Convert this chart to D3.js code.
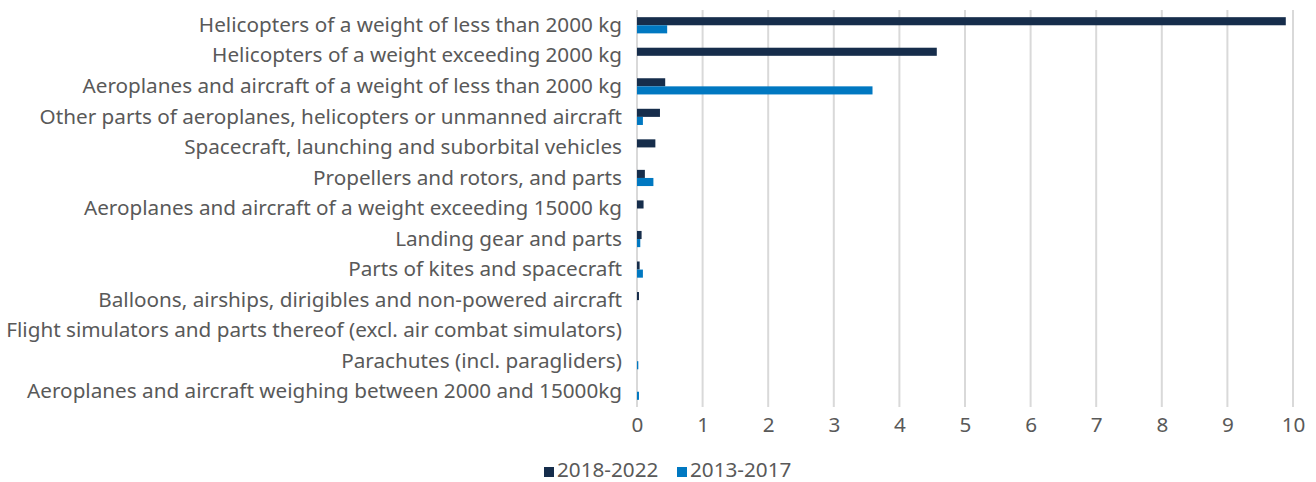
<!DOCTYPE html>
<html>
<head>
<meta charset="utf-8">
<script src="https://cdn.jsdelivr.net/npm/d3@7"></script>
<style>
  html, body { margin: 0; padding: 0; background: #fff; }
  svg { display: block; }
  text { font-family: "Noto Sans", sans-serif; fill: #595959; }
</style>
</head>
<body>
<svg id="chart" width="1316" height="482"></svg>
<script>
// Product categories, top to bottom
const categories = [
  "Helicopters of a weight of less than 2000 kg",
  "Helicopters of a weight exceeding 2000 kg",
  "Aeroplanes and aircraft of a weight of less than 2000 kg",
  "Other parts of aeroplanes, helicopters or unmanned aircraft",
  "Spacecraft, launching and suborbital vehicles",
  "Propellers and rotors, and parts",
  "Aeroplanes and aircraft of a weight exceeding 15000 kg",
  "Landing gear and parts",
  "Parts of kites and spacecraft",
  "Balloons, airships, dirigibles and non-powered aircraft",
  "Flight simulators and parts thereof (excl. air combat simulators)",
  "Parachutes (incl. paragliders)",
  "Aeroplanes and aircraft weighing between 2000 and 15000kg"
];

const seriesNames = ["2018-2022", "2013-2017"];
const values2018_2022 = [9.89, 4.57, 0.43, 0.35, 0.28, 0.12, 0.10, 0.07, 0.04, 0.03, 0, 0, 0];
const values2013_2017 = [0.46, 0, 3.59, 0.09, 0, 0.25, 0, 0.05, 0.09, 0, 0, 0.02, 0.03];
const xTicks = [0, 1, 2, 3, 4, 5, 6, 7, 8, 9, 10];

const colors = ["#162d4b", "#0078c1"];
const fontSize = 20.7;

const svg = d3.select("#chart");
const margin = { left: 637, right: 23, top: 10, bottom: 75 };
const W = 1316, H = 482;

const x = d3.scaleLinear().domain([0, 10]).range([margin.left, W - margin.right]);
const y = d3.scaleBand().domain(categories).range([margin.top, H - margin.bottom]).paddingInner(0.47).paddingOuter(0.235);
const barH = y.bandwidth() / 2;

// Vertical gridlines
svg.append("g").selectAll("line").data(xTicks).join("line")
  .attr("x1", d => x(d)).attr("x2", d => x(d))
  .attr("y1", margin.top).attr("y2", H - margin.bottom)
  .attr("stroke", "#d9d9d9").attr("stroke-width", 2);

// Bars
const series = [values2018_2022, values2013_2017];
series.forEach((vals, si) => {
  svg.append("g").selectAll("rect").data(categories).join("rect")
    .attr("x", x(0))
    .attr("y", (c) => y(c) + si * barH)
    .attr("width", (c, i) => Math.max(0, x(vals[i]) - x(0)))
    .attr("height", barH)
    .attr("fill", colors[si]);
});

// Category labels
const yAxis = d3.axisLeft(y).tickSize(0).tickPadding(15);
const gy = svg.append("g").attr("transform", `translate(${x(0)},0)`).call(yAxis);
gy.select(".domain").remove();
gy.selectAll("text").attr("font-size", fontSize).style("font-family", "Noto Sans, sans-serif").attr("fill", "#595959");

// X tick labels
const xAxis = d3.axisBottom(x).tickValues(xTicks).tickSize(0).tickPadding(10).tickFormat(d3.format("d"));
const gx = svg.append("g").attr("transform", `translate(0,${H - margin.bottom})`).call(xAxis);
gx.select(".domain").remove();
gx.selectAll("text").attr("font-size", fontSize).style("font-family", "Noto Sans, sans-serif").attr("fill", "#595959");

// Legend
const legend = svg.append("g").attr("transform", "translate(544,477)");
const legendX = [0, 133];
seriesNames.forEach((name, i) => {
  const g = legend.append("g").attr("transform", `translate(${legendX[i]},0)`);
  g.append("rect").attr("x", 0).attr("y", -10).attr("width", 10).attr("height", 10).attr("fill", colors[i]);
  g.append("text").attr("x", 13).attr("y", 0).attr("font-size", fontSize).text(name);
});
</script>
</body>
</html>
